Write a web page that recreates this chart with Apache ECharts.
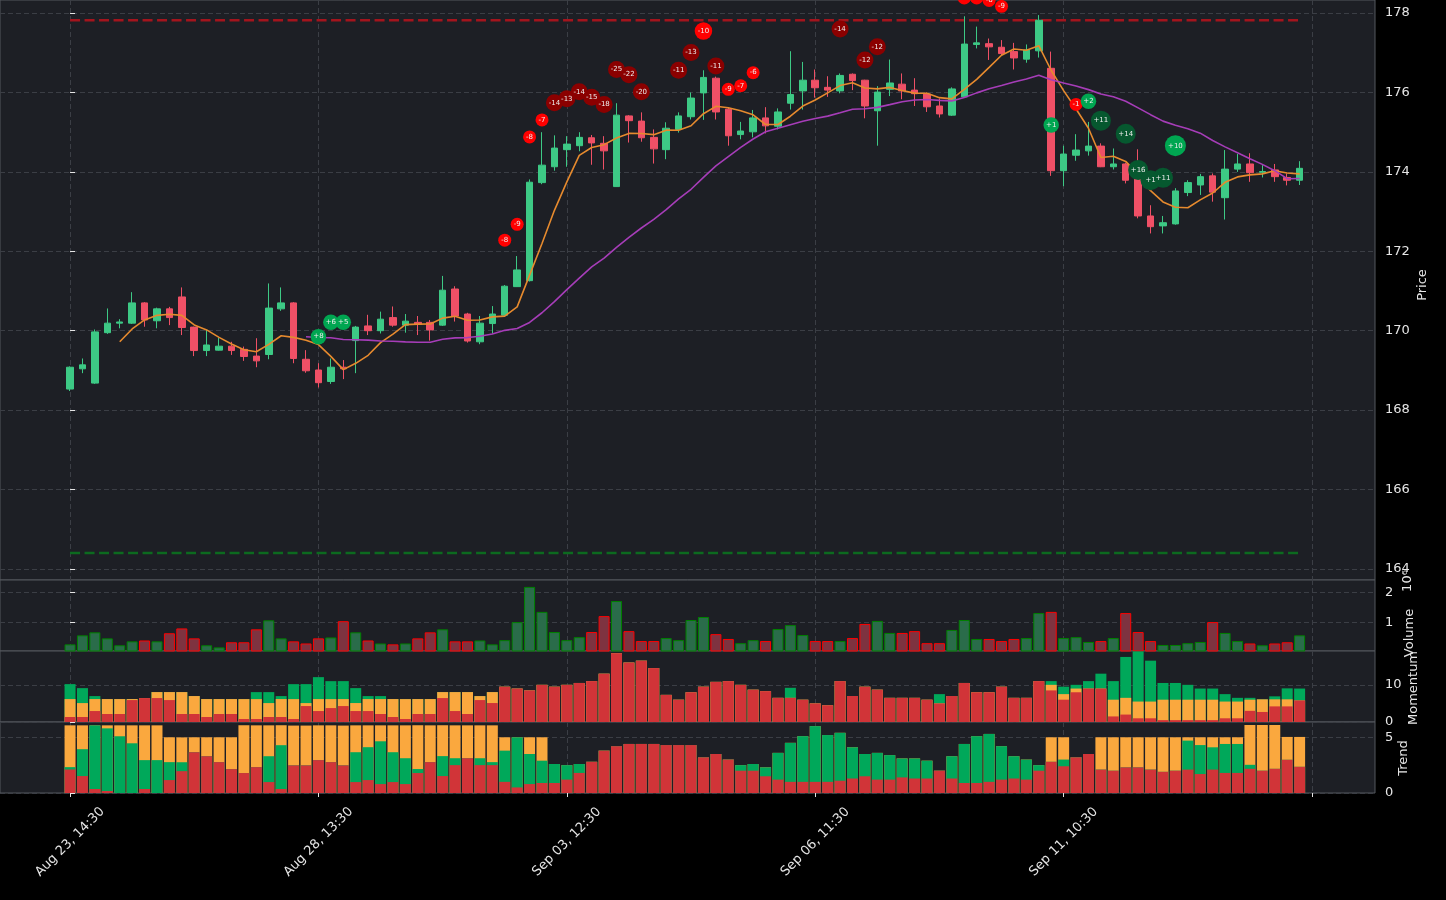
<!DOCTYPE html>
<html><head><meta charset="utf-8">
<script src="https://cdn.jsdelivr.net/npm/echarts@6/dist/echarts.min.js"></script>
<style>html,body{margin:0;padding:0;background:#000;}#c{width:1446px;height:900px;}</style>
</head><body><div id="c"></div>
<script>
// ---------- DATA ----------
const openP = [168.53,169.04,168.68,169.95,170.19,170.19,170.70,170.25,170.55,170.85,
170.09,169.50,169.51,169.61,169.53,169.36,169.40,170.55,170.70,169.28,
169.01,168.72,169.08,169.75,170.12,170.00,170.33,170.14,170.21,170.21,
170.14,171.05,170.42,169.72,170.18,170.39,171.11,171.26,173.73,174.13,
174.56,174.66,174.86,174.72,173.63,175.41,175.28,174.87,174.56,175.07,
175.39,175.99,176.36,175.58,174.94,175.01,175.36,175.15,175.73,176.04,
176.31,176.13,176.04,176.46,176.31,175.54,176.08,176.21,176.06,175.96,
175.66,175.43,175.89,177.21,177.23,177.14,177.03,176.84,177.05,176.61,
174.03,174.42,174.53,174.65,174.13,174.20,174.09,172.89,172.64,172.69,
173.48,173.67,173.90,173.35,174.07,174.20,173.99,174.05,173.86,173.79];
const closeP = [169.08,169.14,169.97,170.19,170.22,170.70,170.27,170.55,170.33,170.08,
169.50,169.64,169.61,169.50,169.35,169.24,170.57,170.70,169.30,168.99,
168.69,169.08,169.04,170.09,170.00,170.29,170.14,170.24,170.16,170.02,
171.02,170.37,169.74,170.19,170.42,171.12,171.53,173.74,174.17,174.60,
174.70,174.87,174.73,174.53,175.43,175.29,174.86,174.58,175.10,175.41,
175.86,176.38,175.51,174.91,175.03,175.36,175.16,175.51,175.95,176.31,
176.12,176.06,176.43,176.30,175.66,176.01,176.24,176.04,175.97,175.64,
175.46,176.09,177.22,177.25,177.15,176.98,176.87,177.07,177.82,174.03,
174.45,174.55,174.65,174.13,174.20,173.79,172.89,172.62,172.72,173.52,
173.73,173.88,173.49,174.07,174.20,173.98,174.01,173.88,173.79,174.09];
const highP = [169.10,169.30,170.03,170.56,170.29,170.97,170.72,170.58,170.60,171.09,
170.10,170.03,169.82,169.72,169.60,169.81,171.19,171.09,170.72,169.51,
169.18,169.30,169.26,170.12,170.40,170.48,170.61,170.42,170.37,170.27,
171.38,171.12,170.45,170.37,170.62,171.15,171.88,173.81,175.00,174.92,
174.90,175.00,174.93,174.90,175.73,175.43,175.50,175.07,175.25,175.50,
176.00,176.56,176.40,175.63,175.26,175.56,175.63,175.60,177.04,176.77,
176.58,176.41,176.48,176.48,176.32,176.16,176.83,176.48,176.36,176.00,
175.85,176.13,177.92,177.66,177.36,177.32,177.25,177.21,177.95,177.03,
174.66,174.95,175.26,174.72,174.59,174.23,174.57,173.16,172.89,173.59,
173.79,173.95,173.96,174.55,174.45,174.47,174.17,174.20,173.96,174.27];
const lowP = [168.48,168.93,168.66,169.92,170.06,170.17,170.10,170.06,170.14,169.89,
169.36,169.36,169.50,169.39,169.24,169.08,169.28,170.50,169.18,168.94,
168.57,168.66,168.78,168.93,169.89,169.93,170.10,169.95,169.89,169.75,
170.12,170.23,169.70,169.66,169.93,170.38,171.10,171.24,173.69,174.03,
174.13,174.52,174.18,174.06,173.62,174.74,174.76,174.21,174.32,174.99,
175.32,175.31,175.32,174.66,174.82,174.87,174.97,175.07,175.57,175.57,
175.87,175.89,175.98,176.06,175.35,174.66,175.91,175.83,175.66,175.51,
175.37,175.41,175.87,177.11,176.82,176.94,176.58,176.75,176.88,173.90,
173.64,174.28,174.41,174.12,174.06,173.71,172.83,172.45,172.45,172.67,
173.39,173.42,173.25,172.80,174.00,173.75,173.86,173.75,173.66,173.67];
// volume in millions
const volume = [0.28,0.58,0.68,0.48,0.25,0.38,0.41,0.38,0.65,0.81,
0.48,0.25,0.18,0.35,0.35,0.78,1.08,0.48,0.38,0.31,
0.48,0.51,1.05,0.68,0.41,0.31,0.28,0.31,0.48,0.68,
0.78,0.38,0.38,0.41,0.28,0.42,1.02,2.19,1.36,0.69,
0.42,0.52,0.69,1.22,1.72,0.72,0.39,0.39,0.49,0.42,
1.09,1.19,0.62,0.46,0.32,0.42,0.39,0.79,0.92,0.59,
0.39,0.39,0.39,0.49,0.96,1.06,0.66,0.66,0.72,0.32,
0.32,0.76,1.09,0.46,0.46,0.39,0.46,0.49,1.32,1.36,
0.49,0.52,0.36,0.39,0.49,1.32,0.69,0.39,0.26,0.26,
0.32,0.36,1.02,0.66,0.39,0.31,0.25,0.31,0.35,0.58];
const momRed = [1.34,1.34,2.95,2.15,2.15,5.9,6.44,6.44,5.9,2.15,
2.15,1.34,2.15,2.15,0.8,0.8,1.34,1.34,0.8,4.29,
2.95,3.75,4.29,2.95,2.95,2.15,1.34,0.8,2.15,2.15,
6.44,2.95,2.15,5.9,5.1,9.5,9.0,8.5,10,9.5,
10,10.5,11,13,18.5,16,16.5,14.5,7.3,6,
8,9.5,10.8,11,10,8.7,8.3,6.5,6.5,6,
5,4.5,11,7,9.5,8.7,6.5,6.5,6.5,6,
5,7,10.5,8,8,9.5,6.5,6.5,11,8.5,
6,8,9,9,1.5,2,1,1,0.5,0.5,
0.5,0.5,0.5,1,1,3,2.7,4.2,4.2,5.8];
const momOrange = [4.83,3.75,3.22,4.02,4.02,0.27,0,1.61,2.15,5.9,
4.83,4.83,4.02,4.02,5.36,5.36,3.75,4.83,5.36,0.8,
3.22,2.41,1.88,2.15,3.22,4.02,4.83,5.36,4.02,4.02,
1.61,5.1,5.9,1.07,2.95,0,0,0,0,0,
0,0,0,0,0,0,0,0,0,0,
0,0,0,0,0,0,0,0,0,0,
0,0,0,0,0,0,0,0,0,0,
0,0,0,0,0,0,0,0,0,1.5,
1.5,1,0,0,4.5,4.5,4.5,4.5,5.5,5.5,
5.5,5.5,5.5,4.5,4.5,3,3.4,1.9,1.9,0];
const momGreen = [4.02,4.02,0.8,0,0,0,0,0,0,0,
0,0,0,0,0,1.88,2.95,0.8,4.02,5.1,
5.9,4.83,4.83,4.02,0.8,0.8,0,0,0,0,
0,0,0,0,0,0,0,0,0,0,
0,0,0,0,0,0,0,0,0,0,
0,0,0,0,0,0,0,0,2.7,0,
0,0,0,0,0,0,0,0,0,0,
2.5,0,0,0,0,0,0,0,0,1,
2,1,2,4,5,11,13.5,11,4.5,4.5,
4,3,3,2,1,0.5,0,0.8,2.95,3.2];
const trendRed = [2.11,1.52,0.36,0.18,0,0,0.36,0,1.16,1.96,
3.66,3.3,2.77,2.14,1.79,2.32,0.98,0.36,2.48,2.48,
2.95,2.77,2.48,0.98,1.16,0.8,0.98,0.8,1.79,2.77,
1.52,2.5,3.12,2.5,2.5,1.0,0.5,0.8,0.9,0.9,
1.2,1.8,2.8,3.8,4.2,4.4,4.4,4.4,4.3,4.3,
4.3,3.2,3.5,3.0,2.0,2.0,1.5,1.2,1.0,1.0,
1.0,1.0,1.1,1.3,1.5,1.2,1.2,1.4,1.3,1.3,
2.0,1.3,0.9,0.9,1.0,1.2,1.3,1.2,2.0,2.8,
2.4,3.2,3.5,2.1,2.0,2.3,2.3,2.1,1.9,2.0,
2.1,1.7,2.1,1.8,1.8,2.17,2.0,2.17,2.98,2.35];
const trendGreen = [0.21,2.41,5.71,5.62,5.09,4.46,2.59,2.95,1.61,0.8,
0,0,0,0,0,0,2.32,3.93,0,0,
0,0,0,2.68,2.95,3.84,2.68,2.32,0.36,0,
1.79,0.62,0,0.62,0.27,2.8,4.5,2.7,2.0,1.7,
1.3,0.8,0,0,0,0,0,0,0,0,
0,0,0,0,0.5,0.6,0.8,2.4,3.5,4.1,
5.0,4.2,4.3,2.8,2.0,2.4,2.2,1.7,1.8,1.6,
0,2.0,3.5,4.2,4.3,3.0,2.0,1.8,0.5,0,
0.6,0,0,0,0,0,0,0,0,0,
2.6,2.6,2.0,2.6,2.6,0.36,0,0,0,0];
const trendOrange = [3.75,2.14,0,0.27,0.98,1.61,3.12,3.12,2.23,2.23,
1.34,1.7,2.23,2.86,4.29,3.75,2.77,1.79,3.57,3.57,
3.12,3.3,3.57,2.41,1.96,1.43,2.41,2.95,3.93,3.3,
2.77,2.95,2.95,2.95,3.3,1.2,0,1.5,2.1,0,
0,0,0,0,0,0,0,0,0,0,
0,0,0,0,0,0,0,0,0,0,
0,0,0,0,0,0,0,0,0,0,
0,0,0,0,0,0,0,0,0,2.2,
2.0,0,0,2.9,3.0,2.7,2.7,2.9,3.1,3.0,
0.3,0.7,0.9,0.6,0.6,3.57,4.1,3.93,2.05,2.68];
// signal markers
const markIdx = [20,21,22,35,36,37,38,39,40,41,42,43,44,45,46,49,50,51,52,53,54,55,62,64,65,72,73,74,75,79,81,82,83,85,86,87,88,89];
const markPrice = [169.85,170.21,170.21,172.28,172.68,174.88,175.31,175.74,175.84,176.02,175.88,175.70,176.58,176.45,176.02,176.56,177.01,177.55,176.67,176.08,176.17,176.50,177.60,176.82,177.15,178.38,178.38,178.32,178.17,175.18,175.70,175.78,175.29,174.96,174.05,173.79,173.85,174.66];
const markText = ['+8','+6','+5','-8','-9','-8','-7','-14','-13','-14','-15','-18','-25','-22','-20','-11','-13','-10','-11','-9','-7','-6','-14','-12','-12','-8','-7','-6','-9','+1','-1','+2','+11','+14','+16','+1','+11','+10'];
const markKind = ['g','g','g','r','r','r','r','R','R','R','R','R','R','R','R','R','R','rb','R','r','r','r','R','R','R','r','r','r','r','g','r','g','G','G','G','G','G','gb'];
const resistanceLevel = 177.82;
const supportLevel = 164.40;
const xTickIdx = [0,20,40,60,80];
const xTickLabels = ['Aug 23, 14:30','Aug 28, 13:30','Sep 03, 12:30','Sep 06, 11:30','Sep 11, 10:30'];
const priceTicks = [164,166,168,170,172,174,176,178];
const volTicks = [1,2];
const momTicks = [0,10];
const trendTicks = [0,5];

// ---------- BUILD ----------
function sma(arr, n){ const out=[]; for(let i=n-1;i<arr.length;i++){let s=0;for(let k=i-n+1;k<=i;k++)s+=arr[k];out.push([i,s/n]);} return out; }
// stacked tops (drawn as overlapping bars, bottom layer on top)
function cumTop(){ const arrs=[...arguments]; return arrs[0].map((_,i)=>[i,arrs.reduce((s,a)=>s+a[i],0)]); }
const UP='#3dc985', DOWN='#ef5066';
const BG='#1d1f25', GRIDC='#3b3e45', BORDER='#55585f', TXT='#e6e6e6';
const RED='#d13438', ORANGE='#faa83e', GREEN='#00a85a';
const FONT='DejaVu Sans';
const XMIN=-5.64, XMAX=105.07;
const grids=[{top:0,height:580},{top:580,height:71},{top:651,height:71},{top:722,height:71}].map(g=>Object.assign({left:0,right:71,show:true,backgroundColor:BG,borderColor:BORDER,borderWidth:1,containLabel:false},g));
const dashed={show:true,lineStyle:{color:GRIDC,type:[5,3],width:1}};
function xAx(k){
  const last = k===3;
  return {type:'value',gridIndex:k,min:XMIN,max:XMAX,minInterval:20,maxInterval:20,splitNumber:5,
    axisLine:{show:false},splitLine:dashed,
    axisTick:{show:last,length:4,lineStyle:{color:TXT},customValues:[0,20,40,60,80,100]},
    axisLabel:{show:last,customValues:xTickIdx,rotate:45,align:'center',verticalAlign:'middle',margin:49,
      color:TXT,fontFamily:FONT,fontSize:13,formatter:v=>{const j=xTickIdx.indexOf(Math.round(v));return j>=0?xTickLabels[j]:'';}}};
}
function yAx(k,min,max,ticks,iv){
  return {type:'value',gridIndex:k,position:'right',min:min,max:max,minInterval:iv,maxInterval:iv,splitNumber:8,scale:true,
    axisLine:{show:false},splitLine:dashed,
    axisTick:{show:true,length:5,lineStyle:{color:TXT},customValues:ticks},
    axisLabel:{show:true,customValues:ticks,margin:10,color:TXT,fontFamily:FONT,fontSize:13}};
}
const candleData = openP.map((o,i)=>[i,o,closeP[i],lowP[i],highP[i]]);
const volData = volume.map((v,i)=>{const up=closeP[i]>=openP[i];return {value:[i,v],itemStyle:{color:up?'#2a6c4a':'#7e3340',borderColor:up?'#008000':'#ff0000',borderWidth:1}};});
const kindColor={r:'#ff0000',rb:'#ff0000',R:'#8b0000',g:'#00a651',gb:'#00a651',G:'#06582f'};
const kindSize={r:13,rb:17.5,R:17,g:15.5,gb:21,G:20};
const markData = markIdx.map((x,i)=>[x,markPrice[i],markText[i],markKind[i]]);
function barS(ax,data,color,z){ return {type:'bar',xAxisIndex:ax,yAxisIndex:ax,data:data,barWidth:11,barGap:'-100%',itemStyle:{color:color},z:z}; }

const option={
  backgroundColor:'#000',
  animation:false,
  grid:grids,
  xAxis:[xAx(0),xAx(1),xAx(2),xAx(3)],
  yAxis:[yAx(0,163.72,178.33,priceTicks,2),yAx(1,0.06,2.42,volTicks,1),yAx(2,0,19.1,momTicks,10),yAx(3,0,6.37,trendTicks,5)],
  series:[
    {type:'line',xAxisIndex:0,yAxisIndex:0,data:[[0,resistanceLevel],[99,resistanceLevel]],symbol:'none',lineStyle:{color:'#a3141d',width:2.5,type:[10,4.5]},z:1},
    {type:'line',xAxisIndex:0,yAxisIndex:0,data:[[0,supportLevel],[99,supportLevel]],symbol:'none',lineStyle:{color:'#0c6a1f',width:2.5,type:[10,4.5]},z:1},
    {type:'candlestick',xAxisIndex:0,yAxisIndex:0,data:candleData,encode:{x:0,y:[1,2,3,4]},barWidth:7,
      itemStyle:{color:UP,color0:DOWN,borderColor:UP,borderColor0:DOWN,borderWidth:1},z:2},
    {type:'line',xAxisIndex:0,yAxisIndex:0,data:sma(closeP,5),symbol:'none',lineStyle:{color:'#e68a2e',width:1.6},z:3},
    {type:'line',xAxisIndex:0,yAxisIndex:0,data:sma(closeP,20),symbol:'none',lineStyle:{color:'#a63db8',width:1.6},z:3},
    {type:'scatter',xAxisIndex:0,yAxisIndex:0,data:markData,clip:false,z:5,
      symbolSize:(v)=>kindSize[v[3]],
      itemStyle:{color:(p)=>kindColor[p.data[3]],opacity:1},
      label:{show:true,position:'inside',formatter:(p)=>p.data[2],color:'#eeeeee',fontSize:7,fontFamily:FONT}},
    {type:'bar',xAxisIndex:1,yAxisIndex:1,data:volData,barWidth:11},
    barS(2,cumTop(momRed,momOrange,momGreen),GREEN,2),
    barS(2,cumTop(momRed,momOrange),ORANGE,3),
    barS(2,cumTop(momRed),RED,4),
    barS(3,cumTop(trendRed,trendGreen,trendOrange),ORANGE,2),
    barS(3,cumTop(trendRed,trendGreen),GREEN,3),
    barS(3,cumTop(trendRed),RED,4)
  ],
  graphic:[
    {type:'text',x:1423,y:285,rotation:Math.PI/2,style:{text:'Price',fill:TXT,font:'13px "DejaVu Sans"',align:'center',verticalAlign:'middle'}},
    {type:'text',x:1410,y:633,rotation:Math.PI/2,style:{text:'Volume',fill:TXT,font:'13px "DejaVu Sans"',align:'center',verticalAlign:'middle'}},
    {type:'text',x:1408,y:581,rotation:Math.PI/2,style:{text:'10\u2076',fill:TXT,font:'13px "DejaVu Sans"',align:'center',verticalAlign:'middle'}},
    {type:'text',x:1414,y:688,rotation:Math.PI/2,style:{text:'Momentum',fill:TXT,font:'13px "DejaVu Sans"',align:'center',verticalAlign:'middle'}},
    {type:'text',x:1404,y:758,rotation:Math.PI/2,style:{text:'Trend',fill:TXT,font:'13px "DejaVu Sans"',align:'center',verticalAlign:'middle'}}
  ]
};
const chart=echarts.init(document.getElementById('c'),null,{renderer:'canvas'});
chart.setOption(option);
</script></body></html>
